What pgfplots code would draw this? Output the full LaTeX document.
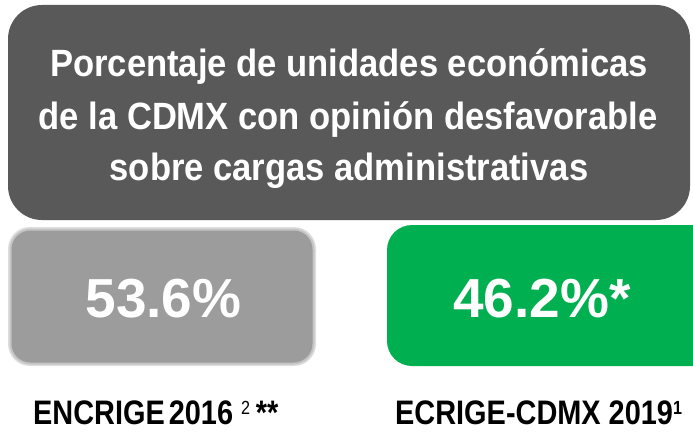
\documentclass[border=0pt]{standalone}
\usepackage{pgfplots}
\pgfplotsset{compat=1.18}
\usepackage{fontspec}
\setmainfont{Liberation Sans}
\newfontfamily\titlefont{Liberation Sans}[FakeStretch=0.91]
\newfontfamily\labfont{Liberation Sans}[FakeStretch=0.85]
\definecolor{titlegray}{HTML}{595959}
\definecolor{boxgray}{HTML}{9C9C9C}
\definecolor{boxring}{HTML}{C4C4C4}
\definecolor{boxedge}{HTML}{DEDEDE}
\definecolor{boxgreen}{HTML}{00B050}
\pgfplotstableread{
x y v
163.5 317 53.6
}\leftvalue
\pgfplotstableread{
x y v
453 317 46.2
}\rightvalue
\begin{document}
\begin{tikzpicture}
\useasboundingbox (0,0) rectangle (693pt,433pt);
\clip (0,0) rectangle (693pt,433pt);
\begin{axis}[at={(0,0)}, anchor=south west, scale only axis,
  width=693pt, height=433pt, xmin=0, xmax=693, ymin=0, ymax=433,
  y dir=reverse, hide axis, clip=false,
  /pgf/number format/assume math mode=true]
% title box
\fill[titlegray, rounded corners=34pt] (axis cs:8,5) rectangle (axis cs:690,220);
\node[anchor=base, text=white, inner sep=0pt, font=\titlefont\bfseries\fontsize{38}{46}\selectfont] at (axis cs:349,77) {Porcentaje de unidades económicas};
\node[anchor=base, text=white, inner sep=0pt, font=\titlefont\bfseries\fontsize{38}{46}\selectfont] at (axis cs:348,129) {de la CDMX con opinión desfavorable};
\node[anchor=base, text=white, inner sep=0pt, font=\titlefont\bfseries\fontsize{38}{46}\selectfont] at (axis cs:349,180) {sobre cargas administrativas};
% value boxes
\fill[boxedge, rounded corners=22pt] (axis cs:8,227) rectangle (axis cs:316,366);
\fill[boxring, rounded corners=21pt] (axis cs:9.5,228.5) rectangle (axis cs:314.5,364.5);
\fill[boxgray, rounded corners=19pt] (axis cs:11.5,230.5) rectangle (axis cs:312.5,362.5);
\fill[boxgreen, rounded corners=25pt] (axis cs:387,225) rectangle (axis cs:720,366);
% values
\addplot[draw=none, mark=none, point meta=explicit,
  nodes near coords={\pgfmathprintnumber[fixed,precision=1,fixed zerofill,assume math mode=true]{\pgfplotspointmeta}\%},
  every node near coord/.append style={anchor=base, inner sep=0pt, text=white,
    font=\bfseries\fontsize{55}{60}\selectfont}]
  table[x=x, y=y, meta=v] {\leftvalue};
\addplot[draw=none, mark=none, point meta=explicit,
  nodes near coords={\pgfmathprintnumber[fixed,precision=1,fixed zerofill,assume math mode=true]{\pgfplotspointmeta}\%*},
  every node near coord/.append style={anchor=base west, inner sep=0pt, text=white,
    font=\bfseries\fontsize{55}{60}\selectfont}]
  table[x=x, y=y, meta=v] {\rightvalue};
% category labels
\node[anchor=base west, inner sep=0pt, font=\labfont\bfseries\fontsize{34}{38}\selectfont] at (axis cs:33,424)
  {ENCRIGE\kern-0.12em\ 2016\ \raisebox{10pt}{\mdseries\fontsize{19}{20}\selectfont 2}\,**};
\node[anchor=base west, inner sep=0pt, font=\labfont\bfseries\fontsize{34}{38}\selectfont] at (axis cs:395,424)
  {ECRIGE-CDMX 2019\raisebox{10pt}{\fontsize{19}{20}\selectfont 1}};
\end{axis}
\end{tikzpicture}
\end{document}
